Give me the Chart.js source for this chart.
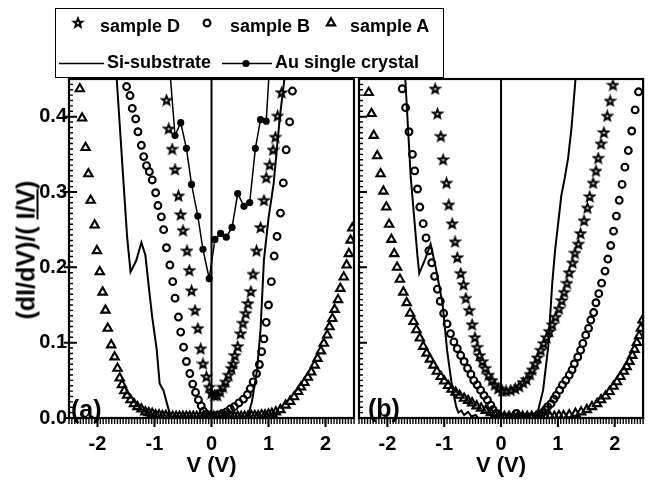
<!DOCTYPE html>
<html>
<head>
<meta charset="utf-8">
<script src="https://cdn.jsdelivr.net/npm/chart.js@4.4.1/dist/chart.umd.min.js"></script>
<style>
  html, body { margin: 0; padding: 0; background: #fff; }
  #wrap { position: relative; width: 650px; height: 483px; overflow: hidden;
          font-family: "Liberation Sans", Arial, sans-serif; font-weight: bold; color: #000; }
  #wrap canvas { position: absolute; left: 0; top: 0; }
  .lbl { position: absolute; white-space: nowrap; line-height: 1; }
  .leg { font-size: 18px; }
  #legendBox { position: absolute; left: 55px; top: 8px; width: 389px; height: 70px;
               box-sizing: border-box; border: 1.5px solid #000; background: #fff; }
  #ytitle { left: 26px; top: 250px; font-size: 25px; transform: translate(-50%, -50%) rotate(-90deg); }
  #ytitle span { text-decoration: underline; text-decoration-thickness: 2px; text-underline-offset: 2px; }
  .panel { font-size: 25px; }
</style>
</head>
<body>
<div id="wrap">
  <canvas id="chartA" width="650" height="483"></canvas>
  <canvas id="chartB" width="650" height="483"></canvas>
  <div id="legendBox"></div>
  <canvas id="legendMarks" width="650" height="90"></canvas>
  <div class="lbl leg" style="left:100px;top:17px">sample D</div>
  <div class="lbl leg" style="left:230px;top:17px">sample B</div>
  <div class="lbl leg" style="left:350px;top:17px">sample A</div>
  <div class="lbl leg" style="left:107px;top:53px">Si-substrate</div>
  <div class="lbl leg" style="left:275px;top:53px">Au single crystal</div>
  <div class="lbl" id="ytitle">(dI/dV)/( <span>I/V</span>)</div>
  <div class="lbl panel" style="left:71px;top:397px">(a)</div>
  <div class="lbl panel" style="left:368px;top:396px">(b)</div>
</div>
<script>
// tick labels
const xTicks = [-2, -1, 0, 1, 2];
const yTicks = [0, 0.1, 0.2, 0.3, 0.4];
const yMinorStep = 0.1 / 14;
const xMinorStep = 0.05;

// ---- panel (a) ----
const aD_V = [-0.79, -0.75, -0.69, -0.64, -0.58, -0.54, -0.50, -0.43, -0.39, -0.35,
              -0.29, -0.24, -0.19, -0.15, -0.09, -0.04, 0.00, 0.05, 0.10, 0.15,
              0.20, 0.25, 0.30, 0.35, 0.38, 0.41, 0.46, 0.51, 0.55, 0.60,
              0.64, 0.69, 0.73, 0.79, 0.86, 0.92, 0.96, 1.02, 1.08, 1.12, 1.16, 1.23];
const aD_G = [0.422, 0.384, 0.357, 0.330, 0.295, 0.270, 0.249, 0.222, 0.196, 0.169,
              0.143, 0.119, 0.092, 0.072, 0.055, 0.041, 0.033, 0.030, 0.030, 0.035,
              0.041, 0.048, 0.057, 0.066, 0.072, 0.083, 0.095, 0.112, 0.126, 0.139,
              0.152, 0.168, 0.191, 0.222, 0.253, 0.289, 0.319, 0.336, 0.356, 0.373, 0.401, 0.432];

const aB_V = [-1.49, -1.43, -1.39, -1.33, -1.29, -1.23, -1.19, -1.14, -1.09, -1.04,
              -0.98, -0.94, -0.88, -0.84, -0.79, -0.73, -0.68, -0.64, -0.58, -0.54,
              -0.49, -0.44, -0.38, -0.33, -0.28, -0.23, -0.18, -0.14, -0.09, -0.04,
              0.02, 0.08, 0.14, 0.19, 0.26, 0.33, 0.40, 0.48, 0.56, 0.63,
              0.68, 0.73, 0.79, 0.84, 0.88, 0.92, 0.96, 1.00, 1.05, 1.10,
              1.15, 1.21, 1.26, 1.31, 1.37, 1.42];
const aB_G = [0.440, 0.428, 0.411, 0.397, 0.380, 0.362, 0.347, 0.335, 0.327, 0.316,
              0.299, 0.282, 0.267, 0.250, 0.226, 0.203, 0.181, 0.159, 0.134, 0.114,
              0.094, 0.075, 0.059, 0.045, 0.034, 0.024, 0.016, 0.009, 0.005, 0.003,
              0.002, 0.003, 0.004, 0.006, 0.008, 0.012, 0.015, 0.020, 0.025, 0.031,
              0.039, 0.048, 0.059, 0.071, 0.088, 0.105, 0.127, 0.150, 0.181, 0.215,
              0.241, 0.272, 0.312, 0.356, 0.393, 0.434];

const aA_V = [-2.31, -2.27, -2.21, -2.16, -2.12, -2.05, -2.01, -1.96, -1.91, -1.86,
              -1.82, -1.76, -1.70, -1.65, -1.61, -1.57, -1.53, -1.48, -1.42, -1.36,
              -1.30, -1.23, -1.16, -1.10, -1.04, -0.98, -0.92, -0.86, -0.80, -0.74,
              -0.68, -0.62, -0.56, -0.50, -0.44, -0.38, -0.32, -0.26, -0.20, -0.14,
              -0.08, -0.02, 0.04, 0.10, 0.16, 0.22, 0.28, 0.34, 0.40, 0.46,
              0.52, 0.58, 0.64, 0.70, 0.76, 0.82, 0.88, 0.94, 1.00, 1.06,
              1.13, 1.21, 1.30, 1.38, 1.45, 1.52, 1.57, 1.63, 1.69, 1.75,
              1.81, 1.86, 1.92, 1.97, 2.03, 2.07, 2.12, 2.16, 2.22, 2.26,
              2.32, 2.37, 2.41, 2.44, 2.47];
const aA_G = [0.437, 0.398, 0.359, 0.324, 0.289, 0.256, 0.222, 0.194, 0.167, 0.143,
              0.119, 0.097, 0.081, 0.066, 0.053, 0.044, 0.036, 0.030, 0.024, 0.019,
              0.015, 0.012, 0.008, 0.007, 0.006, 0.004, 0.004, 0.003, 0.003, 0.002,
              0.002, 0.002, 0.002, 0.002, 0.002, 0.002, 0.002, 0.002, 0.002, 0.002,
              0.002, 0.002, 0.002, 0.002, 0.002, 0.002, 0.002, 0.002, 0.002, 0.002,
              0.002, 0.002, 0.002, 0.003, 0.003, 0.003, 0.004, 0.004, 0.005, 0.006,
              0.008, 0.011, 0.017, 0.022, 0.028, 0.035, 0.041, 0.047, 0.054, 0.061,
              0.070, 0.079, 0.089, 0.099, 0.110, 0.121, 0.132, 0.144, 0.157, 0.172,
              0.187, 0.203, 0.218, 0.236, 0.252];

const aSi_V = [-1.68, -1.55, -1.48, -1.42, -1.32, -1.23, -1.16, -1.10, -1.04, -0.96,
               -0.91, -0.84, -0.78, -0.72, 0.00, 0.00, 0.00, 0.62, 0.65, 0.71,
               0.80, 0.86, 0.92, 1.00, 1.09, 1.20, 1.31];
const aSi_G = [0.470, 0.320, 0.240, 0.194, 0.209, 0.233, 0.216, 0.174, 0.134, 0.090,
               0.046, 0.036, 0.019, 0.002, 0.000, 0.600, 0.000, 0.000, 0.006, 0.022,
               0.064, 0.117, 0.210, 0.265, 0.311, 0.400, 0.470];

const aAu_V = [-0.74, -0.64, -0.54, -0.44, -0.35, -0.24, -0.15, -0.04, 0.06, 0.16,
               0.26, 0.36, 0.46, 0.57, 0.67, 0.77, 0.86, 0.96, 1.02];
const aAu_G = [0.470, 0.375, 0.392, 0.358, 0.310, 0.268, 0.224, 0.185, 0.237, 0.245,
               0.240, 0.253, 0.298, 0.281, 0.286, 0.358, 0.396, 0.394, 0.470];

// ---- panel (b) ----
const bD_V = [-1.16, -1.12, -1.06, -1.02, -0.96, -0.92, -0.86, -0.81, -0.77, -0.71,
              -0.66, -0.62, -0.56, -0.51, -0.46, -0.42, -0.38, -0.33, -0.28, -0.22,
              -0.16, -0.11, -0.05, 0.02, 0.09, 0.17, 0.25, 0.32, 0.39, 0.45,
              0.51, 0.55, 0.60, 0.64, 0.70, 0.75, 0.80, 0.85, 0.90, 0.96,
              1.02, 1.07, 1.11, 1.16, 1.20, 1.26, 1.30, 1.36, 1.40, 1.46,
              1.52, 1.56, 1.62, 1.67, 1.71, 1.76, 1.81, 1.87, 1.92, 1.97];
const bD_G = [0.437, 0.404, 0.374, 0.343, 0.312, 0.283, 0.258, 0.234, 0.213, 0.192,
              0.177, 0.159, 0.143, 0.124, 0.107, 0.094, 0.083, 0.075, 0.066, 0.057,
              0.050, 0.044, 0.039, 0.036, 0.036, 0.037, 0.039, 0.042, 0.047, 0.051,
              0.058, 0.064, 0.072, 0.080, 0.090, 0.099, 0.107, 0.115, 0.124, 0.134,
              0.145, 0.156, 0.167, 0.179, 0.193, 0.206, 0.219, 0.231, 0.245, 0.262,
              0.279, 0.294, 0.312, 0.328, 0.345, 0.364, 0.379, 0.401, 0.421, 0.442];

const bB_V = [-1.74, -1.68, -1.62, -1.56, -1.52, -1.47, -1.43, -1.37, -1.32, -1.27,
              -1.22, -1.17, -1.12, -1.07, -1.01, -0.95, -0.89, -0.83, -0.77, -0.71,
              -0.65, -0.59, -0.53, -0.48, -0.42, -0.36, -0.30, -0.24, -0.18, -0.14,
              -0.08, -0.03, 0.03, 0.09, 0.15, 0.21, 0.27, 0.33, 0.39, 0.45,
              0.51, 0.57, 0.62, 0.67, 0.73, 0.78, 0.82, 0.88, 0.93, 0.97,
              1.03, 1.08, 1.14, 1.20, 1.25, 1.29, 1.35, 1.40, 1.44, 1.49,
              1.54, 1.58, 1.63, 1.67, 1.72, 1.77, 1.83, 1.88, 1.93, 1.98,
              2.03, 2.08, 2.13, 2.18, 2.24, 2.30, 2.36, 2.42];
const bB_G = [0.437, 0.412, 0.380, 0.350, 0.328, 0.304, 0.280, 0.258, 0.239, 0.222,
              0.206, 0.188, 0.171, 0.155, 0.139, 0.125, 0.112, 0.101, 0.092, 0.083,
              0.075, 0.066, 0.058, 0.050, 0.044, 0.037, 0.030, 0.024, 0.017, 0.011,
              0.006, 0.002, 0.001, 0.001, 0.001, 0.001, 0.006, 0.001, 0.001, 0.001,
              0.001, 0.001, 0.002, 0.004, 0.007, 0.011, 0.015, 0.019, 0.025, 0.030,
              0.037, 0.044, 0.050, 0.057, 0.064, 0.072, 0.081, 0.090, 0.099, 0.110,
              0.119, 0.130, 0.140, 0.153, 0.165, 0.179, 0.195, 0.211, 0.229, 0.248,
              0.268, 0.289, 0.310, 0.333, 0.355, 0.381, 0.409, 0.433];

const bA_V = [-2.33, -2.28, -2.24, -2.18, -2.12, -2.07, -2.02, -1.97, -1.93, -1.88,
              -1.83, -1.78, -1.72, -1.66, -1.60, -1.54, -1.49, -1.43, -1.37, -1.31,
              -1.25, -1.19, -1.13, -1.06, -1.00, -0.93, -0.87, -0.80, -0.73, -0.65,
              -0.58, -0.51, -0.43, -0.35, -0.27, -0.18, -0.10, -0.02, 0.06, 0.14,
              0.22, 0.30, 0.38, 0.46, 0.54, 0.62, 0.70, 0.78, 0.86, 0.94,
              1.02, 1.10, 1.20, 1.31, 1.41, 1.51, 1.60, 1.69, 1.76, 1.84,
              1.91, 1.98, 2.04, 2.10, 2.16, 2.21, 2.26, 2.31, 2.35, 2.39,
              2.43, 2.46, 2.49];
const bA_G = [0.432, 0.404, 0.375, 0.348, 0.324, 0.301, 0.280, 0.257, 0.237, 0.218,
              0.200, 0.184, 0.167, 0.153, 0.139, 0.128, 0.117, 0.106, 0.095, 0.086,
              0.078, 0.070, 0.062, 0.055, 0.049, 0.043, 0.038, 0.034, 0.030, 0.026,
              0.023, 0.020, 0.016, 0.013, 0.010, 0.007, 0.004, 0.003, 0.002, 0.002,
              0.002, 0.002, 0.002, 0.002, 0.002, 0.002, 0.002, 0.002, 0.002, 0.002,
              0.003, 0.003, 0.004, 0.006, 0.008, 0.011, 0.015, 0.019, 0.024, 0.029,
              0.035, 0.042, 0.048, 0.055, 0.062, 0.068, 0.075, 0.083, 0.091, 0.100,
              0.109, 0.119, 0.130];

const bSi_V = [-1.70, -1.59, -1.47, -1.44, -1.34, -1.24, -1.15, -1.03, -0.95, -0.87,
               -0.79, -0.75, -0.70, -0.65, -0.58, -0.52, -0.45, -0.40, 0.00, 0.00,
               0.00, 0.58, 0.64, 0.74, 0.83, 0.90, 0.95, 1.00, 1.06, 1.12,
               1.18, 1.24, 1.30, 1.33];
const bSi_G = [0.470, 0.320, 0.214, 0.192, 0.210, 0.231, 0.200, 0.152, 0.090, 0.046,
               0.015, 0.007, 0.010, 0.004, 0.008, 0.002, 0.004, 0.000, 0.000, 0.600,
               0.000, 0.000, 0.006, 0.037, 0.094, 0.178, 0.222, 0.255, 0.295, 0.318,
               0.345, 0.385, 0.440, 0.470];

// ---- markers ----
function drawStar(g, cx, cy) {
  g.beginPath();
  for (let k = 0; k < 10; k++) {
    const r = k % 2 ? 1.9 : 4.5;
    const ang = -Math.PI / 2 + k * Math.PI / 5;
    const px = cx + r * Math.cos(ang), py = cy + r * Math.sin(ang);
    if (k) g.lineTo(px, py); else g.moveTo(px, py);
  }
  g.closePath();
  g.lineWidth = 2;
  g.strokeStyle = '#000';
  g.stroke();
}
const starImg = document.createElement('canvas');
starImg.width = 13; starImg.height = 13;
drawStar(starImg.getContext('2d'), 6.5, 6.9);

function pts(xs, ys) { return xs.map((v, i) => ({ x: v, y: ys[i] })); }

function markers(label, xs, ys, style, r) {
  return {
    label, data: pts(xs, ys), showLine: false,
    pointStyle: style, pointRadius: r, borderWidth: 2.1,
    borderColor: '#000', backgroundColor: 'rgba(0,0,0,0)'
  };
}
function curve(label, xs, ys, width, dot) {
  return {
    label, data: pts(xs, ys), showLine: true, tension: 0,
    borderColor: '#000', borderWidth: width,
    pointRadius: dot, pointBackgroundColor: '#000', pointBorderWidth: 0
  };
}

// frame + major/minor ticks
const frameTicks = {
  id: 'frameTicks',
  afterDraw(chart, args, opts) {
    const { ctx, chartArea: a } = chart;
    const x = chart.scales.x, y = chart.scales.y;
    ctx.save();
    ctx.strokeStyle = '#000';
    ctx.lineWidth = 1.4;
    ctx.beginPath();
    for (let i = 0; i * yMinorStep <= 0.45 + 1e-9; i++) {
      const py = y.getPixelForValue(i * yMinorStep);
      ctx.moveTo(a.left, py); ctx.lineTo(a.left + 4, py);
    }
    for (let i = 0; -2.5 + i * xMinorStep <= 2.5 + 1e-9; i++) {
      const px = x.getPixelForValue(-2.5 + i * xMinorStep);
      ctx.moveTo(px, a.bottom); ctx.lineTo(px, a.bottom + 6);
    }
    ctx.stroke();
    ctx.lineWidth = 2;
    ctx.beginPath();
    yTicks.forEach(v => {
      const py = y.getPixelForValue(v);
      ctx.moveTo(a.left - opts.outY, py); ctx.lineTo(a.left + 8, py);
    });
    xTicks.forEach(v => {
      const px = x.getPixelForValue(v);
      ctx.moveTo(px, a.bottom); ctx.lineTo(px, a.bottom + 9);
    });
    ctx.stroke();
    ctx.lineWidth = 2.2;
    ctx.strokeRect(a.left, a.top, a.right - a.left, a.bottom - a.top);
    ctx.restore();
  }
};

const tickFont = { family: '"Liberation Sans", Arial, sans-serif', size: 20, weight: 'bold' };
const titleFont = { family: '"Liberation Sans", Arial, sans-serif', size: 22, weight: 'bold' };

function panelOptions(padLeft, padRight, showY, outY) {
  return {
    responsive: false,
    animation: false,
    events: [],
    layout: { padding: { left: padLeft, right: padRight, top: 79, bottom: 0 } },
    plugins: { legend: { display: false }, tooltip: { enabled: false }, frameTicks: { outY } },
    scales: {
      x: {
        type: 'linear', min: -2.5, max: 2.5,
        grid: { display: false, drawTicks: false }, border: { display: false },
        afterFit: s => { s.height = 65; },
        afterBuildTicks: s => { s.ticks = xTicks.map(v => ({ value: v })); },
        ticks: { color: '#000', font: tickFont, padding: 14, maxRotation: 0, autoSkip: false,
                 callback: v => String(v) },
        title: { display: true, text: 'V (V)', color: '#000', font: titleFont,
                 padding: { top: 0, bottom: 4 } }
      },
      y: {
        type: 'linear', min: 0, max: 0.45, display: showY,
        grid: { display: false, drawTicks: false }, border: { display: false },
        afterFit: s => { s.width = showY ? 69 : 0; },
        afterBuildTicks: s => { s.ticks = yTicks.map(v => ({ value: v })); },
        ticks: { color: '#000', font: tickFont, padding: 2, autoSkip: false,
                 callback: v => Number(v).toFixed(1) }
      }
    }
  };
}

new Chart(document.getElementById('chartA'), {
  type: 'scatter',
  data: {
    datasets: [
      curve('Si-substrate', aSi_V, aSi_G, 2, 0),
      curve('Au single crystal', aAu_V, aAu_G, 1.5, 3.6),
      markers('sample D', aD_V, aD_G, starImg, 4),
      markers('sample B', aB_V, aB_G, 'circle', 3.4),
      markers('sample A', aA_V, aA_G, 'triangle', 4.8)
    ]
  },
  options: panelOptions(0, 296, true, 5),
  plugins: [frameTicks]
});

new Chart(document.getElementById('chartB'), {
  type: 'scatter',
  data: {
    datasets: [
      curve('Si-substrate', bSi_V, bSi_G, 2, 0),
      markers('sample D', bD_V, bD_G, starImg, 4),
      markers('sample B', bB_V, bB_G, 'circle', 3.4),
      markers('sample A', bA_V, bA_G, 'triangle', 4.8)
    ]
  },
  options: panelOptions(359, 6, false, 0),
  plugins: [frameTicks]
});

// legend symbols
(function () {
  const g = document.getElementById('legendMarks').getContext('2d');
  drawStar(g, 78, 23);
  g.lineWidth = 2.1;
  g.strokeStyle = '#000';
  g.beginPath(); g.arc(207, 23, 3.4, 0, Math.PI * 2); g.stroke();
  const r = 4.8;
  g.beginPath();
  g.moveTo(331, 23 - r);
  g.lineTo(331 + r * Math.sin(2 * Math.PI / 3), 23 - r * Math.cos(2 * Math.PI / 3));
  g.lineTo(331 + r * Math.sin(4 * Math.PI / 3), 23 - r * Math.cos(4 * Math.PI / 3));
  g.closePath(); g.stroke();
  g.lineWidth = 1.6;
  g.beginPath(); g.moveTo(59, 63.5); g.lineTo(104, 63.5); g.stroke();
  g.beginPath(); g.moveTo(222, 63.5); g.lineTo(272, 63.5); g.stroke();
  g.fillStyle = '#000';
  g.beginPath(); g.arc(246, 63.5, 3.6, 0, Math.PI * 2); g.fill();
})();
</script>
</body>
</html>
